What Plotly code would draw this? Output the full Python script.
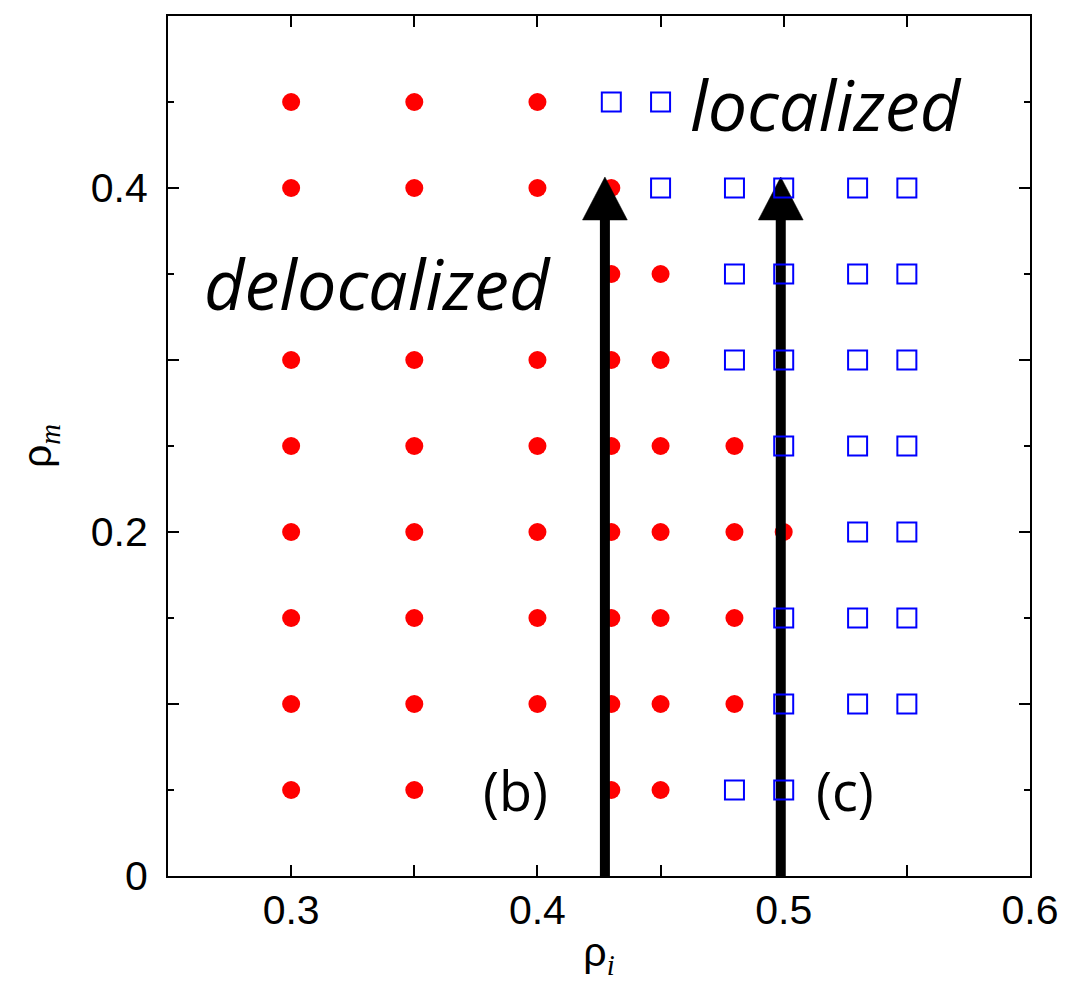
import plotly.graph_objects as go

# ---- data ----
deloc_x = [0.30]*8 + [0.35]*8 + [0.40]*7 + [0.43]*8 + [0.45]*7 + [0.48]*4 + [0.50]
deloc_y = ([0.05, 0.10, 0.15, 0.20, 0.25, 0.30, 0.40, 0.45] * 2 +
           [0.10, 0.15, 0.20, 0.25, 0.30, 0.40, 0.45] +
           [0.05, 0.10, 0.15, 0.20, 0.25, 0.30, 0.35, 0.40] +
           [0.05, 0.10, 0.15, 0.20, 0.25, 0.30, 0.35] +
           [0.10, 0.15, 0.20, 0.25] +
           [0.20])

loc_x = [0.43] + [0.45]*2 + [0.48]*4 + [0.50]*7 + [0.53]*7 + [0.55]*7
loc_y = ([0.45] + [0.40, 0.45] + [0.05, 0.30, 0.35, 0.40] +
         [0.05, 0.10, 0.15, 0.25, 0.30, 0.35, 0.40] +
         [0.10, 0.15, 0.20, 0.25, 0.30, 0.35, 0.40] * 2)

arrow_x = [0.4274, 0.4988]
arrow_tip = 0.4064
head_len = 0.025      # data units (y)
head_halfw = 0.0091   # data units (x)

x_range = [0.25, 0.6]
y_range = [0.0, 0.5]
y_label_vals = [0, 0.2, 0.4]
y_label_text = ["0", "0.2", "0.4"]
y_unlabeled_major = [0.1, 0.3, 0.5]

fig = go.Figure()

fig.add_trace(go.Scatter(x=deloc_x, y=deloc_y, mode="markers",
                         marker=dict(symbol="circle", size=18, color="#ff0000",
                                     line=dict(width=0)),
                         showlegend=False, cliponaxis=False))

# arrows
for ax in arrow_x:
    base = arrow_tip - head_len
    fig.add_trace(go.Scatter(x=[ax, ax], y=[0, base + 0.002], mode="lines",
                             line=dict(color="black", width=10),
                             showlegend=False, hoverinfo="skip"))
    fig.add_trace(go.Scatter(x=[ax - head_halfw, ax + head_halfw, ax, ax - head_halfw],
                             y=[base, base, arrow_tip, base], mode="lines",
                             fill="toself", fillcolor="black",
                             line=dict(color="black", width=0.5),
                             showlegend=False, hoverinfo="skip"))

fig.add_trace(go.Scatter(x=loc_x, y=loc_y, mode="markers",
                         marker=dict(symbol="square-open", size=19, color="#0000ff",
                                     line=dict(width=2, color="#0000ff")),
                         showlegend=False, cliponaxis=False))

# invisible trace to anchor the overlay y axis (long unlabeled ticks)
fig.add_trace(go.Scatter(x=[x_range[0]], y=[y_range[0]], yaxis="y2", mode="markers",
                         marker=dict(opacity=0), showlegend=False, hoverinfo="skip"))

label_font = dict(family="Open Sans", size=70, color="black")
fig.add_annotation(x=0.335, y=0.345, text="<i>delocalized</i>", showarrow=False,
                   font=label_font, xanchor="center", yanchor="middle")
fig.add_annotation(x=0.517, y=0.449, text="<i>localized</i>", showarrow=False,
                   font=label_font, xanchor="center", yanchor="middle")
fig.add_annotation(x=0.391, y=0.050, text="(b)", showarrow=False,
                   font=dict(family="Open Sans", size=54, color="black"),
                   xanchor="center", yanchor="middle")
fig.add_annotation(x=0.5248, y=0.050, text="(c)", showarrow=False,
                   font=dict(family="Open Sans", size=54, color="black"),
                   xanchor="center", yanchor="middle")

axis_common = dict(showgrid=False, zeroline=False, showline=True, linecolor="black",
                   linewidth=2, mirror="allticks", ticks="inside", ticklen=11,
                   tickwidth=2, tickcolor="black", automargin=False,
                   tickfont=dict(family="Liberation Sans", size=41, color="black"))

fig.update_xaxes(range=x_range, tick0=0.3, dtick=0.1, tickformat=".1f",
                 minor=dict(dtick=0.05, ticklen=6, tickwidth=2, tickcolor="black",
                            ticks="inside"),
                 title=dict(text="ρ<sub><span style='font-family:Liberation Serif'><i>i</i></span></sub>",
                            font=dict(family="Liberation Sans", size=41, color="black"),
                            standoff=24),
                 ticklabelstandoff=-3,
                 **axis_common)
fig.update_yaxes(range=y_range, tickvals=y_label_vals, ticktext=y_label_text,
                 minor=dict(dtick=0.05, ticklen=6, tickwidth=2, tickcolor="black",
                            ticks="inside"),
                 title=dict(text="ρ<sub><span style='font-family:Liberation Serif'><i>m</i></span></sub>",
                            font=dict(family="Liberation Sans", size=41, color="black"),
                            standoff=26),
                 ticklabelstandoff=10,
                 **axis_common)

fig.update_layout(
    yaxis2=dict(overlaying="y", anchor="x", side="left", range=y_range,
                tickvals=y_unlabeled_major, showticklabels=False,
                ticks="inside", ticklen=11, tickwidth=2, tickcolor="black",
                mirror="allticks", showline=False, showgrid=False, zeroline=False,
                automargin=False),
    width=1066, height=981,
    margin=dict(l=168, r=36, t=16, b=105),
    plot_bgcolor="white", paper_bgcolor="white")

fig.write_html("out.html")
